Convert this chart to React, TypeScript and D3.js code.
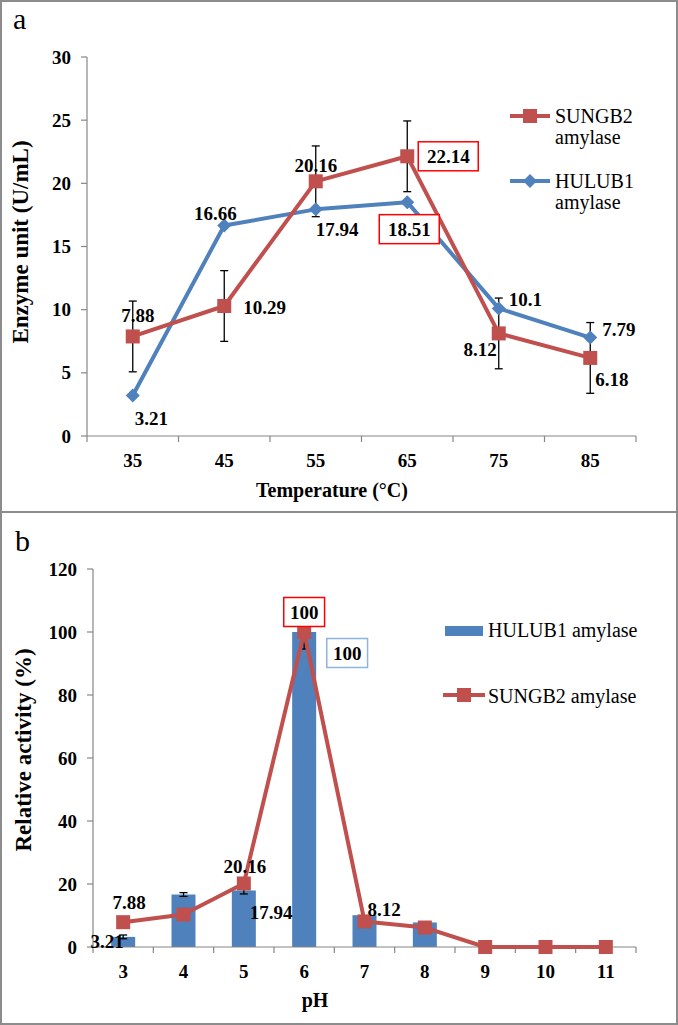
import React from "react";
import * as d3 from "d3";

// panel a: enzyme activity vs temperature
const temps = ["35", "45", "55", "65", "75", "85"];
const sungbTemp = [7.88, 10.29, 20.16, 22.14, 8.12, 6.18];
const sungbTempErr = [2.8, 2.8, 2.8, 2.8, 2.8, 2.8];
const hulubTemp = [3.21, 16.66, 17.94, 18.51, 10.1, 7.79];
const yTicksA = [0, 5, 10, 15, 20, 25, 30];

// panel b: relative activity vs pH
const phs = ["3", "4", "5", "6", "7", "8", "9", "10", "11"];
const hulubPh = [3.21, 16.66, 17.94, 100, 10.1, 7.79, 0, 0, 0];
const hulubPhErr = [0.6, 0.6, 1.1, 5.4, 0, 0, 0, 0, 0];
const sungbPh = [7.88, 10.29, 20.16, 100, 8.12, 6.18, 0, 0, 0];
const yTicksB = [0, 20, 40, 60, 80, 100, 120];

// label placement (dx, dy from point, anchor, optional box)
type Lbl = { i: number; text: string; dx: number; dy: number; anchor: string; box?: string };
const lblSungbA: Lbl[] = [
  { i: 0, text: "7.88", dx: 5, dy: -21, anchor: "middle" },
  { i: 1, text: "10.29", dx: 19, dy: 1, anchor: "start" },
  { i: 2, text: "20.16", dx: 0, dy: -16, anchor: "middle" },
  { i: 3, text: "22.14", dx: 41, dy: 0, anchor: "middle", box: "#ff0000" },
  { i: 4, text: "8.12", dx: -2, dy: 16, anchor: "end" },
  { i: 5, text: "6.18", dx: 5, dy: 22, anchor: "start" },
];
const lblHulubA: Lbl[] = [
  { i: 0, text: "3.21", dx: 2, dy: 23, anchor: "start" },
  { i: 1, text: "16.66", dx: -9, dy: -12, anchor: "middle" },
  { i: 2, text: "17.94", dx: 0, dy: 20, anchor: "start" },
  { i: 3, text: "18.51", dx: 2, dy: 27, anchor: "middle", box: "#ff0000" },
  { i: 4, text: "10.1", dx: 10, dy: -9, anchor: "start" },
  { i: 5, text: "7.79", dx: 12, dy: -8, anchor: "start" },
];
const lblSungbB: Lbl[] = [
  { i: 0, text: "7.88", dx: 6, dy: -20, anchor: "middle" },
  { i: 2, text: "20.16", dx: 1, dy: -17, anchor: "middle" },
  { i: 3, text: "100", dx: 0, dy: -20, anchor: "middle", box: "#ff0000" },
  { i: 4, text: "8.12", dx: 3, dy: -12, anchor: "start" },
];
const lblHulubB: Lbl[] = [
  { i: 0, text: "3.21", dx: -16, dy: 5, anchor: "middle" },
  { i: 2, text: "17.94", dx: 6, dy: 22, anchor: "start" },
  { i: 3, text: "100", dx: 43, dy: 21, anchor: "middle", box: "#8db4e2" },
];

const RED = "#c0504d";
const BLUE = "#4f81bd";
const AXIS = "#868686";
const FONT = '"Liberation Serif", "DejaVu Serif", serif';

const Labels = ({ items, xs, ys }: { items: Lbl[]; xs: (i: number) => number; ys: (i: number) => number }) => (
  <g>
    {items.map((l) => {
      const x = xs(l.i) + l.dx;
      const y = ys(l.i) + l.dy;
      const w = l.text.length * 9.6 + 12;
      const bx = l.anchor === "middle" ? x - w / 2 : l.anchor === "end" ? x - w + 6 : x - 6;
      return (
        <g key={l.text + l.i}>
          {l.box && (
            <rect x={bx} y={y - 14.5} width={w} height={29} fill="white" stroke={l.box} strokeWidth={1.5} />
          )}
          <text x={x} y={y + 6.5} textAnchor={l.anchor} fontWeight="bold" fontSize={19}>
            {l.text}
          </text>
        </g>
      );
    })}
  </g>
);

const Square = ({ x, y }: { x: number; y: number }) => (
  <rect x={x - 7} y={y - 7} width={14} height={14} fill={RED} />
);
const Diamond = ({ x, y }: { x: number; y: number }) => (
  <path d={`M${x},${y - 7}L${x + 7},${y}L${x},${y + 7}L${x - 7},${y}Z`} fill={BLUE} />
);

const ErrBar = ({ x, y0, y1 }: { x: number; y0: number; y1: number }) => (
  <g stroke="black" strokeWidth={1.3}>
    <line x1={x} x2={x} y1={y0} y2={y1} />
    <line x1={x - 4} x2={x + 4} y1={y0} y2={y0} />
    <line x1={x - 4} x2={x + 4} y1={y1} y2={y1} />
  </g>
);

const App = () => {
  // ---- panel a ----
  const xA = d3.scaleBand().domain(temps).range([87, 636]);
  const yA = d3.scaleLinear().domain([0, 30]).range([436, 57]);
  const cxA = (i: number) => (xA(temps[i]) as number) + xA.bandwidth() / 2;
  const line = d3.line<[number, number]>();
  const sungbPathA = line(sungbTemp.map((v, i) => [cxA(i), yA(v)]));
  const hulubPathA = line(hulubTemp.map((v, i) => [cxA(i), yA(v)]));
  const bandEdgesA = [...temps.map((t) => xA(t) as number), 636];

  // ---- panel b ----
  const xB = d3.scaleBand().domain(phs).range([93, 636]);
  const yB = d3.scaleLinear().domain([0, 120]).range([947, 569]);
  const cxB = (i: number) => (xB(phs[i]) as number) + xB.bandwidth() / 2;
  const sungbPathB = line(sungbPh.map((v, i) => [cxB(i), yB(v)]));
  const bandEdgesB = [...phs.map((t) => xB(t) as number), 636];
  const barW = 24;

  return (
    <svg
      width={678}
      height={1025}
      style={{ position: "absolute", left: 0, top: 0, background: "white", fontFamily: FONT }}
    >
      <rect x={0} y={0} width={678} height={1025} fill="white" />
      {/* frames */}
      <rect x={1} y={1} width={676} height={511} fill="none" stroke="#8c8c8c" strokeWidth={2} />
      <rect x={1} y={512} width={676} height={512} fill="none" stroke="#8c8c8c" strokeWidth={2} />

      {/* ================= panel a ================= */}
      <text x={13} y={29} fontSize={30}>a</text>
      <line x1={87} x2={87} y1={yA(30)} y2={yA(0)} stroke={AXIS} strokeWidth={1.2} />
      <line x1={87} x2={636} y1={yA(0)} y2={yA(0)} stroke={AXIS} strokeWidth={1.2} />
      {yTicksA.map((t) => (
        <g key={t}>
          <line x1={81} x2={87} y1={yA(t)} y2={yA(t)} stroke={AXIS} strokeWidth={1.2} />
          <text x={71} y={yA(t) + 6.5} textAnchor="end" fontWeight="bold" fontSize={19}>{t}</text>
        </g>
      ))}
      {bandEdgesA.map((x, i) => (
        <line key={i} x1={x} x2={x} y1={yA(0)} y2={yA(0) + 6} stroke={AXIS} strokeWidth={1.2} />
      ))}
      {temps.map((t, i) => (
        <text key={t} x={cxA(i)} y={467} textAnchor="middle" fontWeight="bold" fontSize={19}>{t}</text>
      ))}
      <text x={332} y={497} textAnchor="middle" fontWeight="bold" fontSize={20}>Temperature (°C)</text>
      <text transform="translate(28,242) rotate(-90)" textAnchor="middle" fontWeight="bold" fontSize={23}>
        Enzyme unit (U/mL)
      </text>

      <path d={hulubPathA ?? ""} fill="none" stroke={BLUE} strokeWidth={4} strokeLinejoin="round" />
      <path d={sungbPathA ?? ""} fill="none" stroke={RED} strokeWidth={4} strokeLinejoin="round" />
      {sungbTemp.map((v, i) => (
        <ErrBar key={i} x={cxA(i)} y0={yA(v + sungbTempErr[i])} y1={yA(v - sungbTempErr[i])} />
      ))}
      {hulubTemp.map((v, i) => <Diamond key={i} x={cxA(i)} y={yA(v)} />)}
      {sungbTemp.map((v, i) => <Square key={i} x={cxA(i)} y={yA(v)} />)}
      <Labels items={lblSungbA} xs={cxA} ys={(i) => yA(sungbTemp[i])} />
      <Labels items={lblHulubA} xs={cxA} ys={(i) => yA(hulubTemp[i])} />

      {/* legend a */}
      <line x1={510} x2={550} y1={116} y2={116} stroke={RED} strokeWidth={4} />
      <Square x={530} y={116} />
      <text x={555} y={123} fontSize={20}>SUNGB2</text>
      <text x={555} y={144} fontSize={20}>amylase</text>
      <line x1={510} x2={550} y1={181} y2={181} stroke={BLUE} strokeWidth={4} />
      <Diamond x={530} y={181} />
      <text x={555} y={188} fontSize={20}>HULUB1</text>
      <text x={555} y={209} fontSize={20}>amylase</text>

      {/* ================= panel b ================= */}
      <text x={15} y={551} fontSize={30}>b</text>
      <line x1={93} x2={93} y1={yB(120)} y2={yB(0)} stroke={AXIS} strokeWidth={1.2} />
      {yTicksB.map((t) => (
        <g key={t}>
          <line x1={87} x2={93} y1={yB(t)} y2={yB(t)} stroke={AXIS} strokeWidth={1.2} />
          <text x={77} y={yB(t) + 6.5} textAnchor="end" fontWeight="bold" fontSize={19}>{t}</text>
        </g>
      ))}
      {hulubPh.map((v, i) =>
        v > 0 ? (
          <rect key={i} x={cxB(i) - barW / 2} y={yB(v)} width={barW} height={yB(0) - yB(v)} fill={BLUE} />
        ) : null
      )}
      {hulubPh.map((v, i) =>
        hulubPhErr[i] > 0 ? (
          <ErrBar key={i} x={cxB(i)} y0={yB(v + hulubPhErr[i])} y1={yB(v - hulubPhErr[i])} />
        ) : null
      )}
      <line x1={93} x2={636} y1={yB(0)} y2={yB(0)} stroke={AXIS} strokeWidth={1.2} />
      {bandEdgesB.map((x, i) => (
        <line key={i} x1={x} x2={x} y1={yB(0)} y2={yB(0) + 6} stroke={AXIS} strokeWidth={1.2} />
      ))}
      {phs.map((t, i) => (
        <text key={t} x={cxB(i)} y={978} textAnchor="middle" fontWeight="bold" fontSize={19}>{t}</text>
      ))}
      <text x={315} y={1007} textAnchor="middle" fontWeight="bold" fontSize={20}>pH</text>
      <text transform="translate(31,750) rotate(-90)" textAnchor="middle" fontWeight="bold" fontSize={23}>
        Relative activity (%)
      </text>

      <path d={sungbPathB ?? ""} fill="none" stroke={RED} strokeWidth={4} strokeLinejoin="round" />
      {sungbPh.map((v, i) => <Square key={i} x={cxB(i)} y={yB(v)} />)}
      <Labels items={lblHulubB} xs={cxB} ys={(i) => yB(hulubPh[i])} />
      <Labels items={lblSungbB} xs={cxB} ys={(i) => yB(sungbPh[i])} />

      {/* legend b */}
      <rect x={445} y={626} width={38} height={10} fill={BLUE} />
      <text x={488} y={637} fontSize={20}>HULUB1 amylase</text>
      <line x1={443} x2={485} y1={695} y2={695} stroke={RED} strokeWidth={4} />
      <Square x={464} y={695} />
      <text x={488} y={703} fontSize={20}>SUNGB2 amylase</text>
    </svg>
  );
};

export default App;
